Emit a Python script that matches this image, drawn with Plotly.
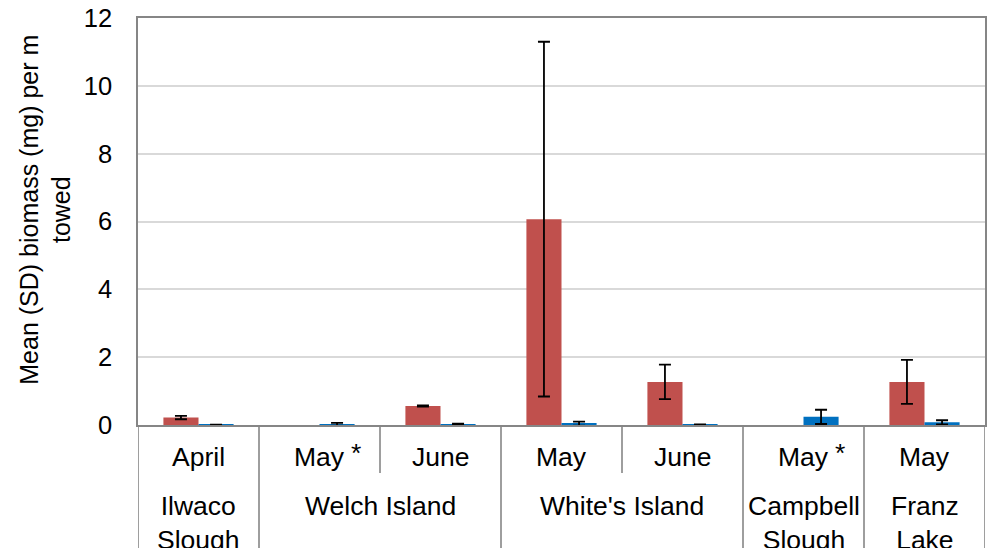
import plotly.graph_objects as go

# Sampling events: month, site, and whether the month is flagged with an asterisk
months = ["April", "May", "June", "May", "June", "May", "May"]
month_flag = [False, True, False, False, False, True, False]
sites = ["Ilwaco<br>Slough", "Welch Island", "White's Island", "Campbell<br>Slough", "Franz<br>Lake"]
site_spans = [(0, 0), (1, 2), (3, 4), (5, 5), (6, 6)]

# Mean biomass (mg) per m towed and its standard deviation
red_mean = [0.22, None, 0.56, 6.07, 1.27, None, 1.27]
red_sd = [0.05, None, 0.02, 5.23, 0.51, None, 0.65]
blue_mean = [0.005, 0.02, 0.02, 0.04, 0.01, 0.24, 0.08]
blue_sd = [0.005, 0.04, 0.02, 0.06, 0.01, 0.21, 0.06]

x = list(range(len(months)))
FONT = "Liberation Sans, Arial, sans-serif"
FS = 25
FS_CAT = 26.5
GRID = "#D9D9D9"
AXIS = "#868686"

fig = go.Figure()
fig.add_trace(go.Bar(
    x=x, y=red_mean, marker=dict(color="#C0504D", line=dict(width=0)),
    error_y=dict(type="data", array=red_sd, visible=True, color="black", thickness=1.8, width=6),
    showlegend=False,
))
fig.add_trace(go.Bar(
    x=x, y=blue_mean, marker=dict(color="#0070C0", line=dict(width=0)),
    error_y=dict(type="data", array=blue_sd, visible=True, color="black", thickness=1.8, width=6),
    showlegend=False,
))

plot_h = 548 - 18 - 123
row1_bottom = -(473 - 425) / plot_h
table_bottom = -1.0

shapes = []
# Vertical dividers of the category table below the axis
full_lines = [-0.5, 0.5, 2.5, 4.5, 5.5, 6.5]
month_only_lines = [1.5, 3.5]
for b in full_lines:
    shapes.append(dict(type="line", xref="x", yref="paper", x0=b, x1=b, y0=0, y1=table_bottom,
                       line=dict(color=AXIS, width=1.6)))
for b in month_only_lines:
    shapes.append(dict(type="line", xref="x", yref="paper", x0=b, x1=b, y0=0, y1=row1_bottom,
                       line=dict(color=AXIS, width=1.6)))

annotations = []
month_y = -(457 - 425) / plot_h
for i, m in enumerate(months):
    annotations.append(dict(x=i, y=month_y, xref="x", yref="paper", text=m, showarrow=False,
                            xanchor="center", yanchor="middle", font=dict(size=FS_CAT, color="black")))
    if month_flag[i]:
        annotations.append(dict(x=i, y=month_y, xref="x", yref="paper", text="*", showarrow=False,
                                xanchor="left", yanchor="middle", xshift=29, yshift=4,
                                font=dict(size=FS_CAT, color="black")))

site_y = -(489 - 425) / plot_h
for name, (a, b) in zip(sites, site_spans):
    annotations.append(dict(x=(a + b) / 2, y=site_y, xref="x", yref="paper", text=name,
                            showarrow=False, xanchor="center", yanchor="top",
                            font=dict(size=FS_CAT, color="black")))

annotations.append(dict(
    x=(44.5 - 138) / 849, y=(425 - 210) / plot_h, xref="paper", yref="paper",
    text="Mean (SD) biomass (mg) per m<br>towed", textangle=-90, showarrow=False,
    xanchor="center", yanchor="middle", font=dict(size=FS, color="black"),
))

fig.update_layout(
    width=990, height=548,
    margin=dict(l=138, r=3, t=18, b=123),
    paper_bgcolor="white", plot_bgcolor="white",
    font=dict(family=FONT, size=FS, color="black"),
    barmode="group", bargap=0.42, bargroupgap=0,
    shapes=shapes, annotations=annotations,
)
fig.update_xaxes(range=[-0.5, 6.5], showticklabels=False, showgrid=False, zeroline=False,
                 showline=True, linecolor=AXIS, linewidth=1.6, mirror=True, ticks="")
fig.update_yaxes(range=[0, 12], dtick=2, showgrid=True, gridcolor=GRID, gridwidth=1.5,
                 zeroline=False, showline=True, linecolor=AXIS, linewidth=1.6, mirror=True,
                 ticks="", ticklabelstandoff=19, tickfont=dict(size=25.5, color="black"))

fig.write_html("out.html")
